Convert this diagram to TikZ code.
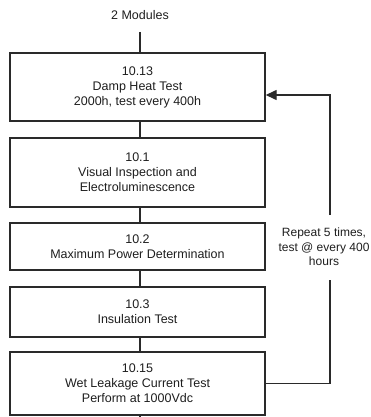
\documentclass[tikz,border=0pt]{standalone}
\usepackage{fontspec}
\setmainfont{Liberation Sans}
\usepackage{tikz}
\usetikzlibrary{calc,arrows.meta,positioning}
\definecolor{LineCol}{HTML}{2A2A2A}
\definecolor{TextCol}{HTML}{1E1E1E}

\begin{document}
\begin{tikzpicture}[x=1pt,y=1pt,
    testbox/.style={draw=LineCol, line width=1.4pt, minimum width=255pt, align=center,
      text=TextCol, font=\fontsize{12.5}{15}\selectfont, inner sep=0pt},
    link/.style={draw=LineCol, line width=1.4pt}]
  \useasboundingbox (0,0) rectangle (371,-417);
  \node[text=TextCol, font=\fontsize{12.5}{15}\selectfont] (mods) at (140,-15) {2 Modules};
  \node[testbox, minimum height=68pt] (dh) at (137.5,-87) {10.13\\Damp Heat Test\\2000h, test every 400h};
  \node[testbox, minimum height=69pt] (vi) at (137.5,-172.5) {10.1\\Visual Inspection and\\Electroluminescence};
  \node[testbox, minimum height=47pt] (mp) at (137.5,-246.5) {10.2\\Maximum Power Determination};
  \node[testbox, minimum height=50pt] (ins) at (137.5,-312) {10.3\\Insulation Test};
  \node[testbox, minimum height=63pt] (wl) at (137.5,-383.5) {10.15\\Wet Leakage Current Test\\Perform at 1000Vdc};
  \coordinate (top) at (140,-32);
  \coordinate (bot) at (140,-420);
  \draw[link] (top) -- (top |- dh.north);
  \draw[link] (dh.south -| top) -- (vi.north -| top);
  \draw[link] (vi.south -| top) -- (mp.north -| top);
  \draw[link] (mp.south -| top) -- (ins.north -| top);
  \draw[link] (ins.south -| top) -- (wl.north -| top);
  \draw[link] (wl.south -| bot) -- (bot);
  % repeat loop
  \node[text=TextCol, align=center, font=\fontsize{12}{14.5}\selectfont] (rep) at (324,-247)
    {Repeat 5 times,\\test @ every 400\\hours};
  \coordinate (lo) at (330,-280);
  \coordinate (hi) at (330,-215);
  \draw[link] (wl.east) -| (lo);
  \draw[link, -{Triangle[length=11pt,width=10pt]}] (hi) |- ([yshift=-8pt]dh.east);
\end{tikzpicture}
\end{document}
